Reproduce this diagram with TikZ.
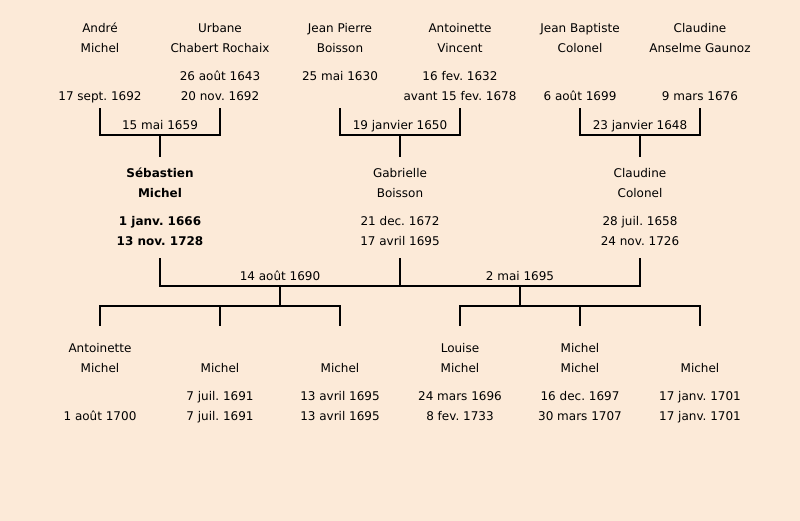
\documentclass[tikz,border=0pt]{standalone}
\usepackage{fontspec}
\setmainfont{DejaVu Sans}
\frenchspacing
\definecolor{paper}{RGB}{252,234,216}

\begin{document}
\begin{tikzpicture}[x=1pt,y=-1pt,
        person/.style={anchor=north,align=center,inner sep=0pt,font=\fontsize{12}{20}\selectfont},
        date/.style={anchor=base,inner sep=0pt,font=\fontsize{12}{20}\selectfont},
        link/.style={line width=2pt}]
        \fill[paper] (0,0) rectangle (800,521);
        \useasboundingbox (0,0) rectangle (800,521);

        \node(andre)[person] at (100,18) {\strut André\\\strut Michel\\[8pt]\strut\\\strut 17 sept. 1692};
        \node(urbane)[person] at (220,18) {\strut Urbane\\\strut Chabert Rochaix\\[8pt]\strut 26 août 1643\\\strut 20 nov. 1692};
        \node(jeanpierre)[person] at (340,18) {\strut Jean Pierre\\\strut Boisson\\[8pt]\strut 25 mai 1630\\\strut};
        \node(antoinette)[person] at (460,18) {\strut Antoinette\\\strut Vincent\\[8pt]\strut 16 fev. 1632\\\strut avant 15 fev. 1678};
        \node(jeanbaptiste)[person] at (580,18) {\strut Jean Baptiste\\\strut Colonel\\[8pt]\strut\\\strut 6 août 1699};
        \node(claudine)[person] at (700,18) {\strut Claudine\\\strut Anselme Gaunoz\\[8pt]\strut\\\strut 9 mars 1676};

        \node(sebastien)[person,font=\fontsize{12}{20}\selectfont\bfseries] at (160,163) {\strut Sébastien\\\strut Michel\\[8pt]\strut 1 janv. 1666\\\strut 13 nov. 1728};
        \node(gabrielle)[person] at (400,163) {\strut Gabrielle\\\strut Boisson\\[8pt]\strut 21 dec. 1672\\\strut 17 avril 1695};
        \node(claudinec)[person] at (640,163) {\strut Claudine\\\strut Colonel\\[8pt]\strut 28 juil. 1658\\\strut 24 nov. 1726};

        \node(antoinettem)[person] at (100,338) {\strut Antoinette\\\strut Michel\\[8pt]\strut\\\strut 1 août 1700};
        \node(michela)[person] at (220,338) {\strut\\\strut Michel\\[8pt]\strut 7 juil. 1691\\\strut 7 juil. 1691};
        \node(michelb)[person] at (340,338) {\strut\\\strut Michel\\[8pt]\strut 13 avril 1695\\\strut 13 avril 1695};
        \node(louise)[person] at (460,338) {\strut Louise\\\strut Michel\\[8pt]\strut 24 mars 1696\\\strut 8 fev. 1733};
        \node(michelc)[person] at (580,338) {\strut Michel\\\strut Michel\\[8pt]\strut 16 dec. 1697\\\strut 30 mars 1707};
        \node(micheld)[person] at (700,338) {\strut\\\strut Michel\\[8pt]\strut 17 janv. 1701\\\strut 17 janv. 1701};

        \coordinate(m1) at (160,135);
        \coordinate(m2) at (400,135);
        \coordinate(m3) at (640,135);
        \coordinate(m4) at (280,286);
        \coordinate(m5) at (520,286);
        \coordinate(f4) at (280,306);
        \coordinate(f5) at (520,306);

        \node(w1)[date] at (160,130) {15 mai 1659};
        \node(w2)[date] at (400,130) {19 janvier 1650};
        \node(w3)[date] at (640,130) {23 janvier 1648};
        \node(w4)[date] at (280,280) {14 août 1690};
        \node(w5)[date] at (520,280) {2 mai 1695};

        \draw[link,shorten <=2pt,shorten >=2pt] (andre.south) |- (m1) -| (urbane.south);
        \draw[link,shorten <=2pt,shorten >=2pt] (jeanpierre.south) |- (m2) -| (antoinette.south);
        \draw[link,shorten <=2pt,shorten >=2pt] (jeanbaptiste.south) |- (m3) -| (claudine.south);
        \draw[link,shorten >=6pt] (m1) -- (sebastien.north);
        \draw[link,shorten >=6pt] (m2) -- (gabrielle.north);
        \draw[link,shorten >=6pt] (m3) -- (claudinec.north);

        \draw[link,shorten <=7pt,shorten >=7pt] (sebastien.south) |- (m4) -| (claudinec.south);
        \draw[link,shorten <=7pt] (gabrielle.south) -- (gabrielle.south |- m4);
        \draw[link] (m4) -- (f4);
        \draw[link] (m5) -- (f5);

        \draw[link,shorten >=12pt] (f4) -| (antoinettem.north);
        \draw[link,shorten >=12pt] (f4) -| (michelb.north);
        \draw[link,shorten >=12pt] (michela.north |- f4) -- (michela.north);
        \draw[link,shorten >=12pt] (f5) -| (louise.north);
        \draw[link,shorten >=12pt] (f5) -| (micheld.north);
        \draw[link,shorten >=12pt] (michelc.north |- f5) -- (michelc.north);
    \end{tikzpicture}
\end{document}
